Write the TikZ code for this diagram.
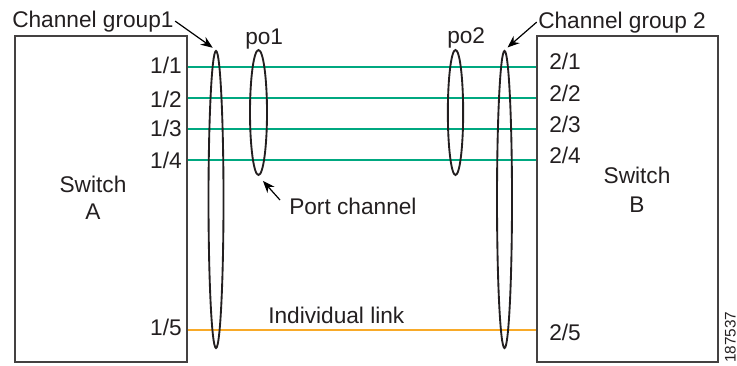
\documentclass[tikz,border=0pt]{standalone}
\usepackage{fontspec}
\setmainfont{Liberation Sans}
\usetikzlibrary{shapes.geometric,arrows.meta}
\definecolor{linkgreen}{RGB}{0,168,128}
\definecolor{linkorange}{RGB}{248,170,40}
\definecolor{ink}{RGB}{35,31,32}
\begin{document}
\begin{tikzpicture}[x=0.75pt, y=-0.75pt, >={Stealth[length=9pt,width=7pt]},
  every node/.style={text=ink, font=\fontsize{17}{20}\selectfont, inner sep=0pt},
  switchbox/.style={draw=ink!85, line width=0.8pt, rectangle},
  bundle/.style={draw=ink, line width=1.4pt, ellipse},
  link/.style={line width=1.1pt}]
\useasboundingbox (0,0) rectangle (737,365);
% switches
\node[switchbox, minimum width=129pt, minimum height=244.5pt] (swA) at (101,199) {};
\node[switchbox, minimum width=135.75pt, minimum height=244.5pt] (swB) at (627.5,199) {};
\node[align=center] (swAlbl) at (93,198) {Switch\\[0pt]A};
\node[align=center] (swBlbl) at (637,190) {Switch\\[2pt]B};
% ports and links
\foreach \n/\ly/\lb/\rb in {1/67/73/69, 2/98/107/101, 3/129/136/132, 4/160/168/163}{
  \node[anchor=base east] (pA\n) at (182,\lb) {1/\n};
  \node[anchor=base west] (pB\n) at (549,\rb) {2/\n};
  \draw[link, linkgreen] (swA.east |- 0,\ly) -- (swB.west |- 0,\ly);
}
\node[anchor=base east] (pA5) at (182,335) {1/5};
\node[anchor=base west] (pB5) at (549,340) {2/5};
\draw[link, linkorange] (swA.east |- 0,330) -- (swB.west |- 0,330);
\node[anchor=base west] (indlbl) at (268,323) {Individual link};
% bundles
\node[bundle, minimum width=11.25pt, minimum height=222.75pt] (cg1) at (216,199.5) {};
\node[bundle, minimum width=11.25pt, minimum height=222.75pt] (cg2) at (504.5,199.5) {};
\node[bundle, minimum width=12.75pt, minimum height=93.75pt] (po1) at (258.5,112.5) {};
\node[bundle, minimum width=11.5pt, minimum height=93.75pt] (po2) at (455.5,112.5) {};
\node[anchor=base west] (po1lbl) at (245,44) {po1};
\node[anchor=base west] (po2lbl) at (447,43) {po2};
% callouts
\node[anchor=base west] (cg1lbl) at (12,27) {Channel group1};
\node[anchor=base west] (cg2lbl) at (538,28) {Channel group 2};
\node[anchor=base west] (pclbl) at (289,214) {Port channel};
\coordinate (pctail) at (280,200);
\draw[->, line width=0.9pt, shorten >=3pt] ([xshift=1pt]cg1lbl.east) -- (cg1.north);
\draw[->, line width=0.9pt, shorten >=3pt] ([xshift=-1pt]cg2lbl.west) -- (cg2.north);
\draw[->, line width=0.9pt, shorten >=5pt] (pctail) -- (po1.south);
\node[rotate=90, anchor=south west, font=\fontsize{11.5}{13}\selectfont] (figno) at (736,363) {187537};
\end{tikzpicture}
\end{document}
